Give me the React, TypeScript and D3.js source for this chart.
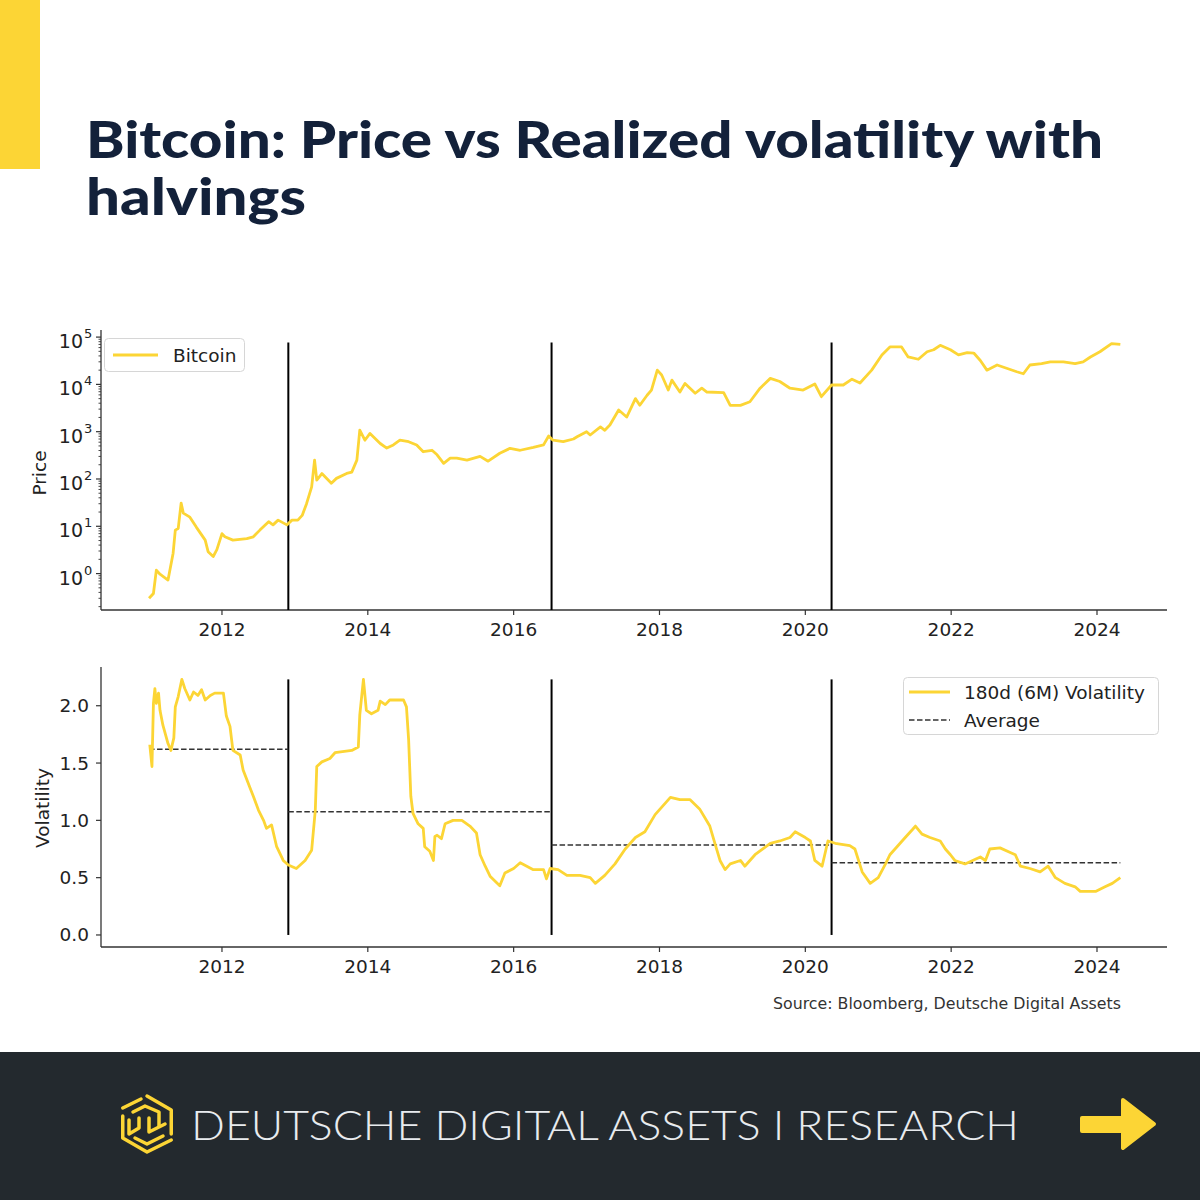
import React from "react";
import * as d3 from "d3";

// ---------- DATA ----------
const priceSeries: [number, number][] = [
  [2011.0, 0.3], [2011.06, 0.38], [2011.1, 1.18], [2011.15, 0.97], [2011.26, 0.73], [2011.33, 2.7],
  [2011.36, 8.3], [2011.4, 9], [2011.44, 31], [2011.47, 19], [2011.56, 15.6], [2011.65, 9.5],
  [2011.77, 5.1], [2011.81, 2.9], [2011.88, 2.3], [2011.93, 3.2], [2012.0, 7], [2012.04, 6],
  [2012.15, 5.1], [2012.34, 5.5], [2012.43, 6], [2012.52, 8.3], [2012.64, 12.5], [2012.7, 10.7],
  [2012.77, 13.5], [2012.89, 10.7], [2012.96, 13.5], [2013.04, 13.5], [2013.1, 17], [2013.16, 30],
  [2013.23, 68], [2013.27, 250], [2013.3, 95], [2013.37, 130], [2013.5, 81], [2013.57, 103],
  [2013.71, 131], [2013.78, 140], [2013.85, 250], [2013.89, 1080], [2013.96, 660], [2014.03, 920],
  [2014.17, 563], [2014.26, 450], [2014.35, 525], [2014.44, 660], [2014.56, 615], [2014.67, 525],
  [2014.76, 377], [2014.88, 405], [2014.95, 325], [2015.04, 214], [2015.13, 275], [2015.22, 275],
  [2015.36, 250], [2015.54, 300], [2015.65, 238], [2015.81, 350], [2015.95, 445], [2016.09, 405],
  [2016.27, 465], [2016.41, 525], [2016.48, 810], [2016.54, 660], [2016.68, 615], [2016.82, 700],
  [2016.87, 780], [2017.0, 1000], [2017.05, 850], [2017.19, 1260], [2017.25, 1070], [2017.32, 1380],
  [2017.44, 2870], [2017.55, 2040], [2017.67, 5000], [2017.73, 3630], [2017.83, 5900], [2017.89, 7600],
  [2017.97, 20000], [2018.03, 15800], [2018.12, 7600], [2018.17, 12300], [2018.28, 6900], [2018.35, 10500],
  [2018.49, 6500], [2018.58, 8300], [2018.65, 6900], [2018.88, 6700], [2018.97, 3600], [2019.11, 3600],
  [2019.24, 4300], [2019.38, 8300], [2019.52, 13400], [2019.65, 11500], [2019.79, 8300], [2019.97, 7600],
  [2020.13, 10200], [2020.22, 5500], [2020.36, 9700], [2020.52, 9700], [2020.64, 12900], [2020.75, 10700],
  [2020.91, 20000], [2021.05, 42000], [2021.16, 62000], [2021.32, 62000], [2021.41, 38000], [2021.55, 34000],
  [2021.67, 49000], [2021.76, 54000], [2021.85, 67000], [2021.99, 54000], [2022.1, 42000], [2022.22, 47000],
  [2022.31, 46000], [2022.4, 32000], [2022.49, 20000], [2022.63, 25700], [2022.76, 21900], [2022.9, 18500],
  [2022.99, 16800], [2023.08, 25700], [2023.24, 27500], [2023.36, 30000], [2023.54, 30000], [2023.7, 27500],
  [2023.81, 30000], [2023.91, 38000], [2024.04, 49000], [2024.2, 73000], [2024.32, 70000],
];

const volSeries: [number, number][] = [
  [2011.01, 1.66], [2011.04, 1.47], [2011.06, 2.02], [2011.08, 2.15], [2011.1, 2.02], [2011.13, 2.11],
  [2011.15, 1.96], [2011.19, 1.83], [2011.26, 1.67], [2011.3, 1.61], [2011.34, 1.72], [2011.36, 1.99],
  [2011.4, 2.08], [2011.45, 2.23], [2011.49, 2.15], [2011.56, 2.05], [2011.61, 2.12], [2011.67, 2.09],
  [2011.72, 2.14], [2011.77, 2.05], [2011.84, 2.09], [2011.9, 2.11], [2012.02, 2.11], [2012.06, 1.91],
  [2012.11, 1.82], [2012.15, 1.61], [2012.25, 1.57], [2012.29, 1.44], [2012.38, 1.29], [2012.43, 1.21],
  [2012.5, 1.09], [2012.57, 1.0], [2012.61, 0.93], [2012.68, 0.96], [2012.75, 0.77], [2012.84, 0.65],
  [2012.91, 0.61], [2013.02, 0.58], [2013.14, 0.65], [2013.23, 0.74], [2013.28, 1.09], [2013.3, 1.47],
  [2013.37, 1.51], [2013.48, 1.54], [2013.55, 1.59], [2013.78, 1.61], [2013.87, 1.64], [2013.89, 1.92],
  [2013.94, 2.23], [2013.98, 1.96], [2014.05, 1.93], [2014.14, 1.96], [2014.17, 2.04], [2014.24, 2.01],
  [2014.3, 2.05], [2014.49, 2.05], [2014.53, 1.99], [2014.56, 1.7], [2014.59, 1.21], [2014.62, 1.06],
  [2014.69, 0.97], [2014.76, 0.93], [2014.78, 0.77], [2014.85, 0.73], [2014.9, 0.65], [2014.92, 0.86],
  [2014.95, 0.87], [2015.01, 0.84], [2015.06, 0.97], [2015.17, 1.0], [2015.29, 1.0], [2015.4, 0.95],
  [2015.49, 0.89], [2015.54, 0.7], [2015.61, 0.6], [2015.68, 0.51], [2015.81, 0.43], [2015.88, 0.54],
  [2016.0, 0.58], [2016.09, 0.63], [2016.27, 0.57], [2016.41, 0.57], [2016.45, 0.49], [2016.5, 0.58],
  [2016.61, 0.57], [2016.73, 0.52], [2016.91, 0.52], [2017.05, 0.5], [2017.12, 0.45], [2017.25, 0.52],
  [2017.39, 0.62], [2017.53, 0.75], [2017.67, 0.85], [2017.8, 0.9], [2017.94, 1.05], [2018.08, 1.15],
  [2018.15, 1.2], [2018.28, 1.18], [2018.42, 1.18], [2018.55, 1.1], [2018.69, 0.95], [2018.76, 0.8],
  [2018.83, 0.65], [2018.9, 0.57], [2018.97, 0.62], [2019.11, 0.65], [2019.17, 0.6], [2019.31, 0.7],
  [2019.52, 0.8], [2019.65, 0.82], [2019.79, 0.85], [2019.86, 0.9], [2020.0, 0.85], [2020.07, 0.82],
  [2020.13, 0.65], [2020.23, 0.6], [2020.31, 0.82], [2020.41, 0.8], [2020.61, 0.78], [2020.68, 0.75],
  [2020.78, 0.55], [2020.89, 0.45], [2021.0, 0.5], [2021.1, 0.62], [2021.16, 0.7], [2021.3, 0.8],
  [2021.37, 0.85], [2021.47, 0.92], [2021.51, 0.95], [2021.6, 0.88], [2021.71, 0.85], [2021.85, 0.82],
  [2021.92, 0.75], [2021.99, 0.7], [2022.05, 0.65], [2022.19, 0.62], [2022.4, 0.68], [2022.47, 0.65],
  [2022.53, 0.75], [2022.67, 0.76], [2022.81, 0.72], [2022.88, 0.7], [2022.95, 0.6], [2023.08, 0.58],
  [2023.22, 0.55], [2023.33, 0.6], [2023.43, 0.5], [2023.56, 0.45], [2023.7, 0.42], [2023.77, 0.38],
  [2023.98, 0.38], [2024.11, 0.42], [2024.21, 0.45], [2024.32, 0.5],
];

const halvingYears = [2012.91, 2016.52, 2020.36];
const avgStarts = [2011.0, 2012.91, 2016.52, 2020.36];
const avgEnds = [2012.91, 2016.52, 2020.36, 2024.32];
const avgValues = [1.62, 1.075, 0.785, 0.63];

const xTickYears = [2012, 2014, 2016, 2018, 2020, 2022, 2024];
const priceTickExps = [0, 1, 2, 3, 4, 5];
const volTicks = [0.0, 0.5, 1.0, 1.5, 2.0];

const titleLines = ["Bitcoin: Price vs Realized volatility with", "halvings"];
const priceLegend = "Bitcoin";
const volLegend = ["180d (6M) Volatility", "Average"];
const sourceText = "Source: Bloomberg, Deutsche Digital Assets";
const footerText = "DEUTSCHE DIGITAL ASSETS I RESEARCH";

// ---------- STYLE ----------
const YELLOW = "#FCD535";
const NAVY = "#13213a";
const AXIS = "#333333";
const FONT = "'DejaVu Sans', sans-serif";
const FS = 18.5;
const LW = 2.8;

export default function App() {
  const x = d3.scaleLinear().domain([2010.341, 2024.96]).range([101, 1167]);
  const yP = d3.scaleLog().domain([Math.pow(10, -0.77), Math.pow(10, 5.15)]).range([610, 330]);
  const yV = d3.scaleLinear().domain([-0.105, 2.338]).range([947, 667]);

  const priceLine = d3.line<[number, number]>().x((d) => x(d[0])).y((d) => yP(d[1]));
  const volLine = d3.line<[number, number]>().x((d) => x(d[0])).y((d) => yV(d[1]));

  const pMax = d3.max(priceSeries, (d) => d[1]) as number;
  const vMax = d3.max(volSeries, (d) => d[1]) as number;

  const minorTicks: number[] = [];
  for (let e = -1; e <= 5; e++) {
    for (let m = 2; m <= 9; m++) {
      const v = m * Math.pow(10, e);
      if (v >= yP.domain()[0] && v <= yP.domain()[1]) minorTicks.push(v);
    }
  }

  const xAxis = (yAxis: number) => (
    <g>
      <line x1={101} x2={1167} y1={yAxis} y2={yAxis} stroke={AXIS} strokeWidth={1.3} />
      {xTickYears.map((t) => (
        <g key={t}>
          <line x1={x(t)} x2={x(t)} y1={yAxis} y2={yAxis + 5} stroke={AXIS} strokeWidth={1.2} />
          <text x={x(t)} y={yAxis + 26} textAnchor="middle" fontSize={FS} fontFamily={FONT} fill="#222">
            {t}
          </text>
        </g>
      ))}
    </g>
  );

  // hexagon logo
  const cx = 147, cy = 1124, R = 28;
  const hex = d3.range(6).map((i) => {
    const a = (Math.PI / 3) * i - Math.PI / 2;
    return [cx + R * Math.cos(a), cy + R * Math.sin(a)] as [number, number];
  });

  return (
    <svg width={1200} height={1200} style={{ position: "absolute", left: 0, top: 0, background: "#fff" }}>
      <rect x={0} y={0} width={1200} height={1200} fill="#ffffff" />
      {/* yellow accent */}
      <rect x={0} y={0} width={40} height={169} fill={YELLOW} />
      {/* title */}
      <text x={86} y={158} fontSize={52} fontWeight={900} fontFamily="Lato, 'Open Sans', sans-serif" fill={NAVY}
        textLength={1017} lengthAdjust="spacingAndGlyphs">
        {titleLines[0]}
      </text>
      <text x={86} y={215} fontSize={52} fontWeight={900} fontFamily="Lato, 'Open Sans', sans-serif" fill={NAVY}
        textLength={220} lengthAdjust="spacingAndGlyphs">
        {titleLines[1]}
      </text>

      {/* ---------- PRICE PANEL ---------- */}
      <line x1={101} x2={101} y1={330} y2={610} stroke={AXIS} strokeWidth={1.3} />
      {priceTickExps.map((e) => {
        const ty = yP(Math.pow(10, e));
        return (
          <g key={e}>
            <line x1={96} x2={101} y1={ty} y2={ty} stroke={AXIS} strokeWidth={1.2} />
            <text x={83} y={ty + 11} textAnchor="end" fontSize={19} fontFamily={FONT} fill="#222">10</text>
            <text x={84} y={ty + 1} textAnchor="start" fontSize={13} fontFamily={FONT} fill="#222">{e}</text>
          </g>
        );
      })}
      {minorTicks.map((v) => (
        <line key={v} x1={98.5} x2={101} y1={yP(v)} y2={yP(v)} stroke={AXIS} strokeWidth={0.9} />
      ))}
      {xAxis(610)}
      <text transform={`translate(46,473) rotate(-90)`} textAnchor="middle" fontSize={FS} fontFamily={FONT} fill="#222">
        Price
      </text>
      {halvingYears.map((h) => (
        <line key={h} x1={x(h)} x2={x(h)} y1={yP(pMax * 1.05)} y2={610} stroke="#000" strokeWidth={2} />
      ))}
      <path d={priceLine(priceSeries) || ""} fill="none" stroke={YELLOW} strokeWidth={LW} strokeLinejoin="round" />
      {/* legend */}
      <rect x={104.5} y={338.5} width={140} height={33} rx={4} fill="#fff" fillOpacity={0.8} stroke="#d6d6d6" />
      <line x1={113} x2={158} y1={355} y2={355} stroke={YELLOW} strokeWidth={LW} />
      <text x={173} y={361.5} fontSize={FS} fontFamily={FONT} fill="#222">{priceLegend}</text>

      {/* ---------- VOL PANEL ---------- */}
      <line x1={101} x2={101} y1={667} y2={947} stroke={AXIS} strokeWidth={1.3} />
      {volTicks.map((t) => (
        <g key={t}>
          <line x1={96} x2={101} y1={yV(t)} y2={yV(t)} stroke={AXIS} strokeWidth={1.2} />
          <text x={89} y={yV(t) + 6.5} textAnchor="end" fontSize={FS} fontFamily={FONT} fill="#222">
            {t.toFixed(1)}
          </text>
        </g>
      ))}
      {xAxis(947)}
      <text transform={`translate(49,808) rotate(-90)`} textAnchor="middle" fontSize={FS} fontFamily={FONT} fill="#222">
        Volatility
      </text>
      {halvingYears.map((h) => (
        <line key={h} x1={x(h)} x2={x(h)} y1={yV(vMax)} y2={yV(0)} stroke="#000" strokeWidth={2} />
      ))}
      {avgValues.map((v, i) => (
        <line key={i} x1={x(avgStarts[i])} x2={x(avgEnds[i])} y1={yV(v)} y2={yV(v)} stroke="#333"
          strokeWidth={1.5} strokeDasharray="5.5,2.5" />
      ))}
      <path d={volLine(volSeries) || ""} fill="none" stroke={YELLOW} strokeWidth={LW} strokeLinejoin="round" />
      {/* legend */}
      <rect x={903.5} y={677.5} width={255} height={57} rx={4} fill="#fff" fillOpacity={0.8} stroke="#d6d6d6" />
      <line x1={909} x2={950} y1={692} y2={692} stroke={YELLOW} strokeWidth={LW} />
      <text x={964} y={698.5} fontSize={FS} fontFamily={FONT} fill="#222">{volLegend[0]}</text>
      <line x1={909} x2={950} y1={720} y2={720} stroke="#333" strokeWidth={1.5} strokeDasharray="5.5,2.5" />
      <text x={964} y={726.5} fontSize={FS} fontFamily={FONT} fill="#222">{volLegend[1]}</text>

      {/* source */}
      <text x={1121} y={1009} textAnchor="end" fontSize={15.8} fontFamily={FONT} fill="#333">{sourceText}</text>

      {/* ---------- FOOTER ---------- */}
      <rect x={0} y={1052} width={1200} height={148} fill="#23292e" />
      <g fill="none" stroke={YELLOW} strokeWidth={3.5} strokeLinejoin="round" strokeLinecap="round">
        <path d={`M${hex[0][0]},${hex[0][1]} L${hex[1][0]},${hex[1][1]} L${hex[2][0]},${hex[2][1] - 4}`} />
        <path d={`M${hex[2][0]},${hex[2][1] + 2} L${hex[3][0]},${hex[3][1]} L${hex[4][0]},${hex[4][1]} L${hex[5][0]},${hex[5][1] + 6}`} />
        <path d={`M${hex[5][0]},${hex[5][1] - 2} L${hex[0][0] - 6},${hex[0][1] + 3}`} />
        <path d={`M${cx - 14},${cy - 12} L${cx - 2},${cy - 18} L${cx + 12},${cy - 12} L${cx + 12},${cy + 2}`} />
        <path d={`M${cx - 18},${cy - 4} L${cx - 18},${cy + 10} L${cx - 8},${cy + 4} L${cx - 8},${cy - 6}`} />
        <path d={`M${cx - 12},${cy + 14} L${cx},${cy + 20} L${cx + 16},${cy + 12}`} />
        <path d={`M${cx + 2},${cy - 6} L${cx + 2},${cy + 8} L${cx + 18},${cy}`} />
      </g>
      <text x={191} y={1140} fontSize={42} fontWeight={300} fontFamily="Lato, 'Open Sans', sans-serif" fill="#e8ebee"
        textLength={828} lengthAdjust="spacingAndGlyphs">
        {footerText}
      </text>
      <path
        d="M1082,1118 L1123,1118 L1123,1100 L1154,1124 L1123,1148 L1123,1131 L1082,1131 Z"
        fill={YELLOW} stroke={YELLOW} strokeWidth={4} strokeLinejoin="round"
      />
    </svg>
  );
}
